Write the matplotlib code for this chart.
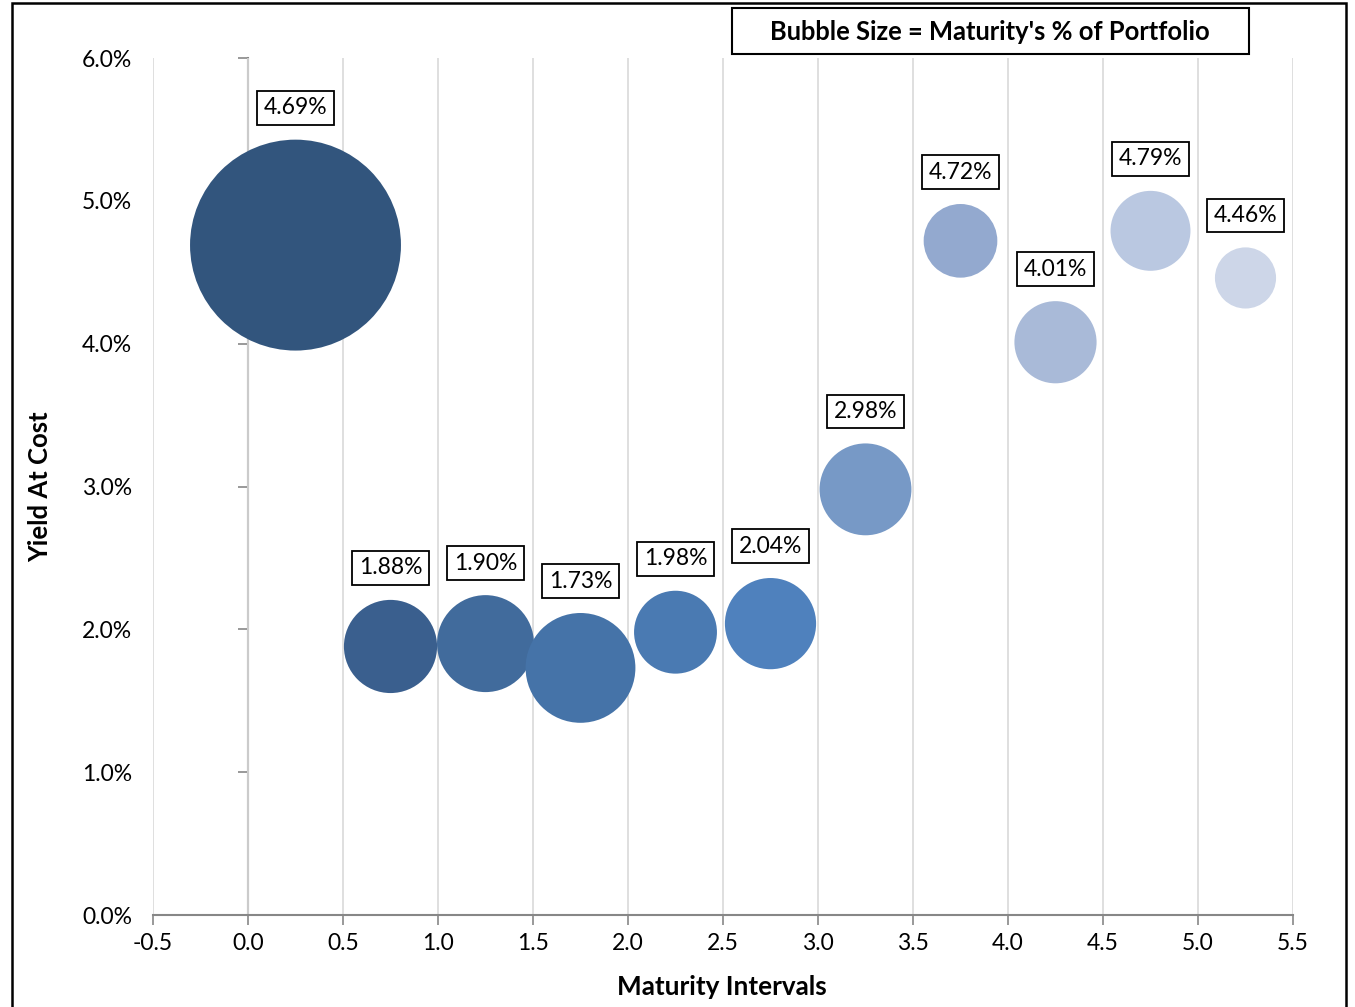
import numpy as np
import matplotlib.pyplot as plt
from matplotlib.patches import Rectangle

plt.rcParams['font.family'] = ['Lato', 'DejaVu Sans']

### DATA
maturity = [0.25, 0.75, 1.25, 1.75, 2.25, 2.75, 3.25, 3.75, 4.25, 4.75, 5.25]
yield_cost = [4.69, 1.88, 1.90, 1.73, 1.98, 2.04, 2.98, 4.72, 4.01, 4.79, 4.46]
portfolio_pct = [36.9, 7.2, 7.8, 10.0, 5.7, 6.9, 7.0, 4.5, 5.6, 5.3, 3.1]
bubble_colors = ['#32557D', '#3A5F8E', '#416B9C', '#4573A8', '#4A7AB2', '#4F81BD',
                 '#7799C6', '#93A9CF', '#A9BAD8', '#BAC8E1', '#CDD6E8']
xticks = [-0.5, 0.0, 0.5, 1.0, 1.5, 2.0, 2.5, 3.0, 3.5, 4.0, 4.5, 5.0, 5.5]
yticks = [0.0, 1.0, 2.0, 3.0, 4.0, 5.0, 6.0]

### FIGURE
fig = plt.figure(figsize=(13.55, 10.07), dpi=100)
ax = fig.add_axes([153/1355, 92/1007, 1140/1355, 857/1007])

sizes = np.asarray(portfolio_pct) * 625.0
ax.scatter(maturity, yield_cost, s=sizes, c=bubble_colors, edgecolors='none', zorder=3)

# data labels above each bubble
for x, y, s in zip(maturity, yield_cost, sizes):
    ax.annotate(f'{y:.2f}%', (x, y), xytext=(0, np.sqrt(s)/2 + 23),
                textcoords='offset points', ha='center', va='center', fontsize=16.5,
                bbox=dict(boxstyle='square,pad=0.28', fc='white', ec='black', lw=1.3),
                zorder=4)

ax.set_xlim(-0.5, 5.5)
ax.set_ylim(0, 6)
ax.set_xticks(xticks)
ax.set_xticklabels([f'{v:.1f}' for v in xticks], fontsize=16.5)
ax.set_yticks(yticks)
ax.set_yticklabels([f'{v:.1f}%' for v in yticks], fontsize=16.5)
ax.tick_params(axis='y', length=0, pad=15)
ax.tick_params(axis='x', length=7, width=1.2, color='#878787', pad=6)
ax.grid(axis='x', color='#D9D9D9', lw=1.2, zorder=0)
for sp in ['left', 'right', 'top']:
    ax.spines[sp].set_visible(False)
ax.spines['bottom'].set_color('#878787')
ax.spines['bottom'].set_linewidth(1.5)

# vertical axis line at x = 0
sec = ax.secondary_yaxis(1/12)
sec.set_yticks(yticks)
sec.set_yticklabels([])
sec.tick_params(length=7, width=1.2, color='#878787')
sec.spines['left'].set_color('#878787')
sec.spines['left'].set_linewidth(1.5)

fig.text(722/1355, 1 - 987/1007, 'Maturity Intervals', ha='center', va='center',
         fontsize=18.8, fontweight='bold')
fig.text(40/1355, 1 - 487/1007, 'Yield At Cost', ha='center', va='center',
         fontsize=18.5, fontweight='bold', rotation=90)

# size legend box
fig.patches.append(Rectangle((732/1355, 1 - 54/1007), 517/1355, 46/1007,
                             transform=fig.transFigure, fc='white', ec='black', lw=1.5))
fig.text(990/1355, 1 - 32/1007, "Bubble Size = Maturity's % of Portfolio",
         ha='center', va='center', fontsize=18.4, fontweight='bold')

# outer frame
fig.patches.append(Rectangle((12/1355, -0.02), 1334/1355, 1.02 - 3/1007,
                             transform=fig.transFigure, fill=False, ec='black', lw=1.8))

plt.savefig('out.png', dpi=100)
